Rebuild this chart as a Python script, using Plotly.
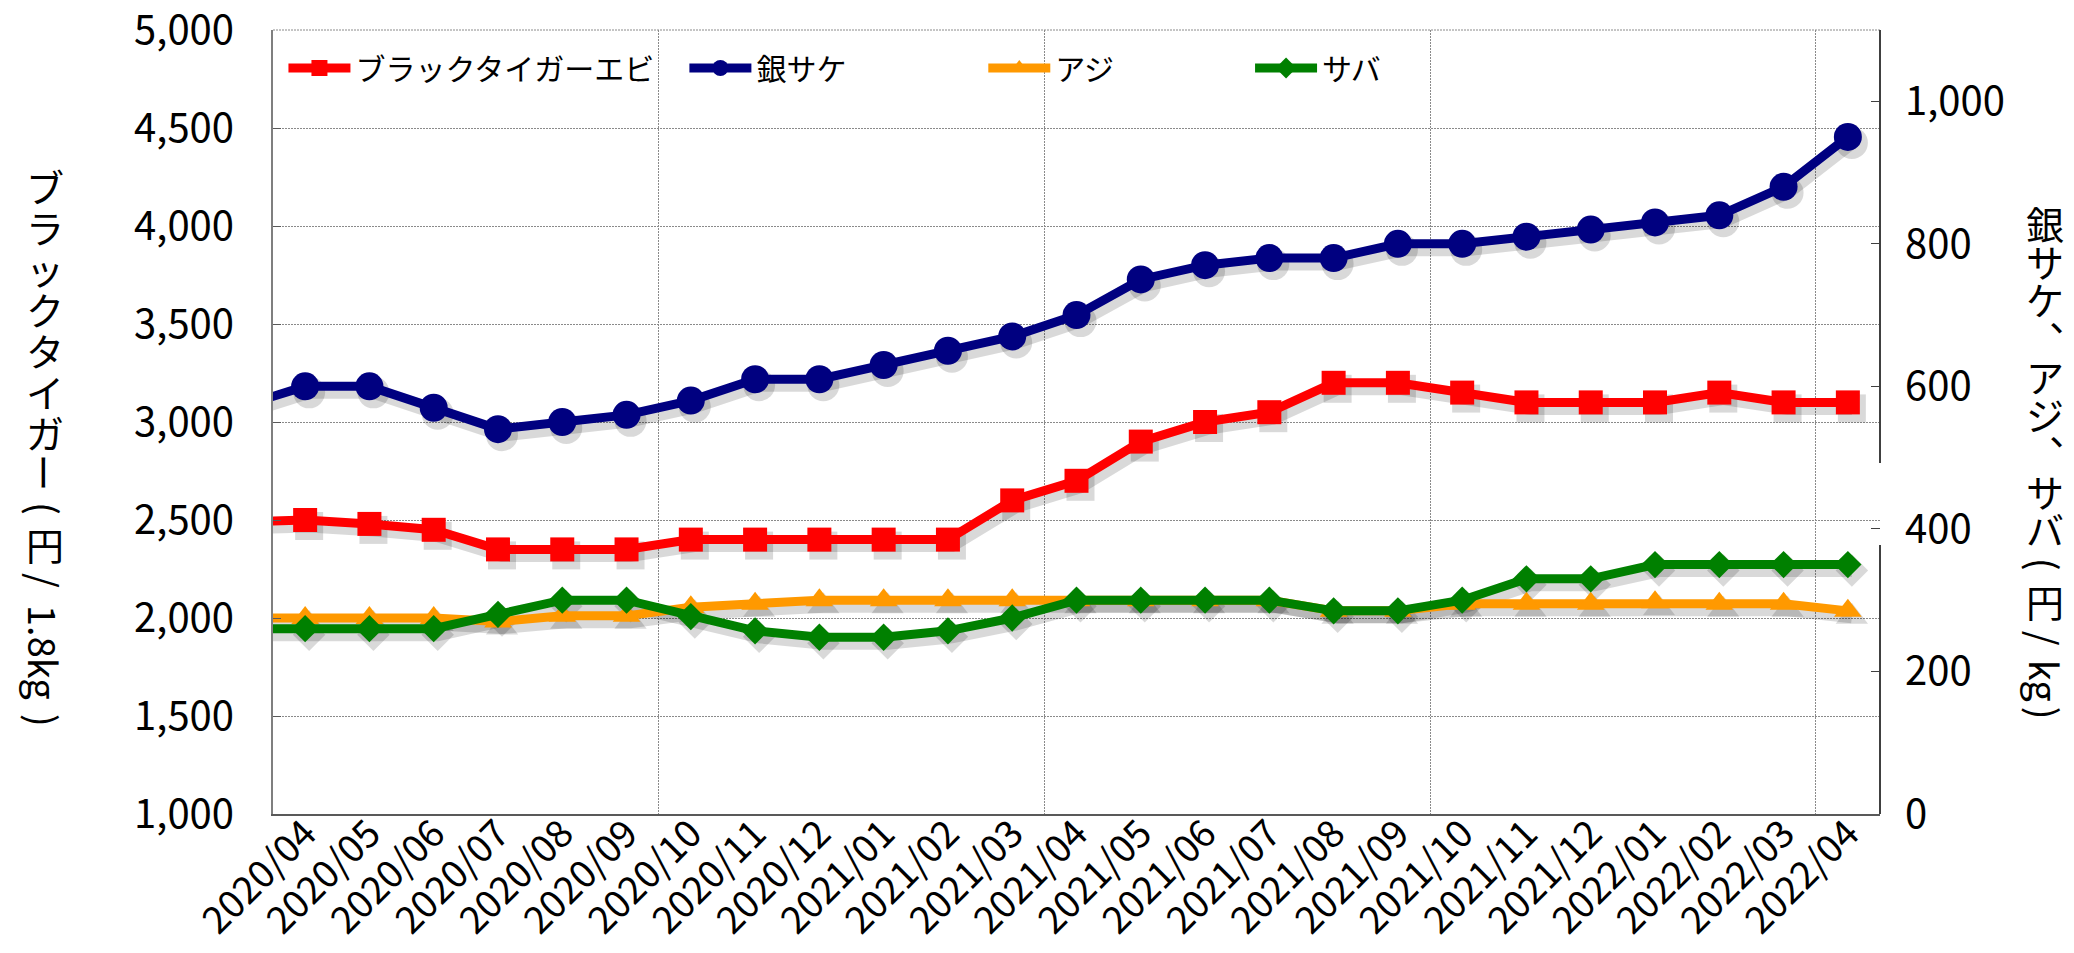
import plotly.graph_objects as go

# ── data (2020/03 is only visible as the clipped line stub) ──
months = ["2020/03", "2020/04", "2020/05", "2020/06", "2020/07", "2020/08", "2020/09",
          "2020/10", "2020/11", "2020/12", "2021/01", "2021/02", "2021/03", "2021/04",
          "2021/05", "2021/06", "2021/07", "2021/08", "2021/09", "2021/10", "2021/11",
          "2021/12", "2022/01", "2022/02", "2022/03", "2022/04"]

tiger = [2490, 2500, 2480, 2450, 2350, 2350, 2350, 2400, 2400, 2400, 2400, 2400, 2600,
         2700, 2900, 3000, 3050, 3200, 3200, 3150, 3100, 3100, 3100, 3150, 3100, 3100]
salmon = [572, 600, 600, 570, 540, 550, 560, 580, 610, 610, 630, 650, 670,
          700, 750, 770, 780, 780, 800, 800, 810, 820, 830, 840, 880, 950]
aji = [275, 275, 275, 275, 270, 278, 278, 290, 295, 300, 300, 300, 300,
       300, 300, 300, 300, 285, 285, 295, 295, 295, 297, 295, 295, 285]
saba = [260, 260, 260, 260, 280, 300, 300, 277, 257, 248, 248, 257, 275,
        300, 300, 300, 300, 285, 285, 300, 330, 330, 350, 350, 350, 350]

names = ["ブラックタイガーエビ", "銀サケ", "アジ", "サバ"]
colors = ["#FF0000", "#000080", "#FF9900", "#008000"]
symbols = ["square", "circle", "triangle-up", "diamond"]
sizes = [24, 28, 24, 21]

# ── geometry ─────────────────────────────────────────────────────────────────
W, H = 2074, 953
PL, PR, PT, PB = 265, 1872, 22, 806
pw, ph = PR - PL, PB - PT
FONT = "Noto Sans CJK JP"
NUMFONT = "Liberation Sans Narrow, Noto Sans CJK JP"

x_idx = list(range(-1, len(months) - 1))          # 2020/04 -> 0
x_rng = [-0.5, len(months) - 1.5]
left_rng = [1000, 5000]
right_rng = [0, 1100]

# drop shadow: same data on invisible axes whose ranges are shifted a few px
SDX, SDY = 4, 6
sx = SDX * (x_rng[1] - x_rng[0]) / pw
syl = SDY * (left_rng[1] - left_rng[0]) / ph
syr = SDY * (right_rng[1] - right_rng[0]) / ph
SHADOW = "rgba(0,0,0,0.15)"

series = [tiger, salmon, aji, saba]

fig = go.Figure()

for i, vals in enumerate(series):
    fig.add_trace(go.Scatter(
        x=x_idx, y=vals, mode="lines+markers", showlegend=False, hoverinfo="skip",
        xaxis="x", yaxis="y" if i == 0 else "y2",
        line=dict(color=SHADOW, width=13),
        marker=dict(symbol=symbols[i], size=sizes[i] + 4, color=SHADOW),
    ))

legend_ids = ["legend", "legend2", "legend3", "legend4"]
for i, vals in enumerate(series):
    fig.add_trace(go.Scatter(
        x=x_idx, y=vals, name=names[i], mode="lines+markers",
        xaxis="x2", yaxis="y3" if i == 0 else "y4",
        legend=legend_ids[i],
        line=dict(color=colors[i], width=9),
        marker=dict(symbol=symbols[i], size=sizes[i], color=colors[i]),
    ))

GRIDCOL, GRIDDASH = "#8a8a8a", "2px,1px"
grid = dict(gridcolor=GRIDCOL, gridwidth=1, griddash=GRIDDASH)
tickfont = dict(family=NUMFONT, size=40, color="black")

fig.update_layout(
    width=W, height=H,
    paper_bgcolor="white", plot_bgcolor="white",
    margin=dict(l=PL, r=W - PR, t=PT, b=H - PB, autoexpand=False),
    font=dict(family=FONT, color="black"),
    xaxis=dict(range=[x_rng[0] - sx, x_rng[1] - sx], visible=False),
    yaxis=dict(range=[left_rng[0] + syl, left_rng[1] + syl], visible=False),
    yaxis2=dict(range=[right_rng[0] + syr, right_rng[1] + syr], visible=False,
                overlaying="y"),
    xaxis2=dict(
        overlaying="x", side="bottom", range=x_rng,
        tickmode="array", tickvals=x_idx[1:], ticktext=months[1:],
        tickangle=-45, tickfont=dict(family=FONT, size=38, color="black"),
        ticklabelstandoff=-20,
        ticks="", showgrid=False, zeroline=False,
        showline=True, linecolor="#595959", linewidth=2,
        minor=dict(tick0=5.5, dtick=6, showgrid=True, ticks="", **grid),
    ),
    yaxis3=dict(
        overlaying="y", side="left", range=left_rng, dtick=500, tickformat=",",
        tickfont=tickfont, ticks="inside", ticklen=8, tickcolor="#595959",
        ticklabelstandoff=29, ticklabeloverflow="allow",
        showgrid=True, zeroline=False,
        showline=True, linecolor="#7f7f7f", linewidth=2, **grid,
    ),
    yaxis4=dict(
        overlaying="y", side="right", range=right_rng, dtick=200, tickformat=",",
        tickfont=tickfont, ticks="inside", ticklen=9, tickcolor="#404040",
        ticklabelstandoff=24, ticklabeloverflow="allow",
        showgrid=False, zeroline=False, showline=False,
    ),
)

# legends: one per series so each entry sits where the reference has it
leg_x = [0.0065, 0.256, 0.442, 0.608]
for lid, lx in zip(legend_ids, leg_x):
    fig.update_layout({lid: dict(
        x=lx, y=(PB - 60) / ph, xanchor="left", yanchor="middle",
        orientation="h", bgcolor="rgba(0,0,0,0)", borderwidth=0,
        itemwidth=62, font=dict(family=FONT, size=30, color="black"),
    )})

# top border is the dotted 5,000 gridline
fig.add_shape(type="line", xref="paper", yref="paper", x0=0, x1=1, y0=1, y1=1,
              line=dict(color=GRIDCOL, width=1, dash=GRIDDASH))

# right axis line has a small break in the reference
for y0, y1 in [(PB, 537), (455, PT)]:
    fig.add_shape(type="line", xref="paper", yref="paper", x0=1, x1=1,
                  y0=(PB - y0) / ph, y1=(PB - y1) / ph,
                  line=dict(color="#404040", width=2))


# ── vertical (tategaki) axis titles ──────────────────────────────────────────
def vtitle(parts, x_px, y_top):
    y = y_top
    for text, adv, ang in parts:
        fig.add_annotation(
            text=text, textangle=ang, showarrow=False,
            xref="paper", yref="paper",
            x=(x_px - PL) / pw, y=(PB - (y + adv / 2)) / ph,
            xanchor="center", yanchor="middle",
            font=dict(family=FONT, size=38, color="black"),
        )
        y += adv


left_parts = [(c, 41, 0) for c in "ブラックタイガ"] + [
    ("ー", 41, 90), ("(", 30, 90), ("円", 40, 0), ("/", 34, 90),
    ("1.8kg", 110, 90), (")", 26, 90)]
vtitle(left_parts, 37, 157)

right_parts = [(c, 38.3, 0) for c in "銀サケ︑アジ︑サバ"] + [
    ("(", 34, 90), ("円", 38, 0), ("/", 38, 90), ("kg", 46, 90), (")", 20, 90)]
vtitle(right_parts, 2037, 195)

fig.write_html("out.html")
